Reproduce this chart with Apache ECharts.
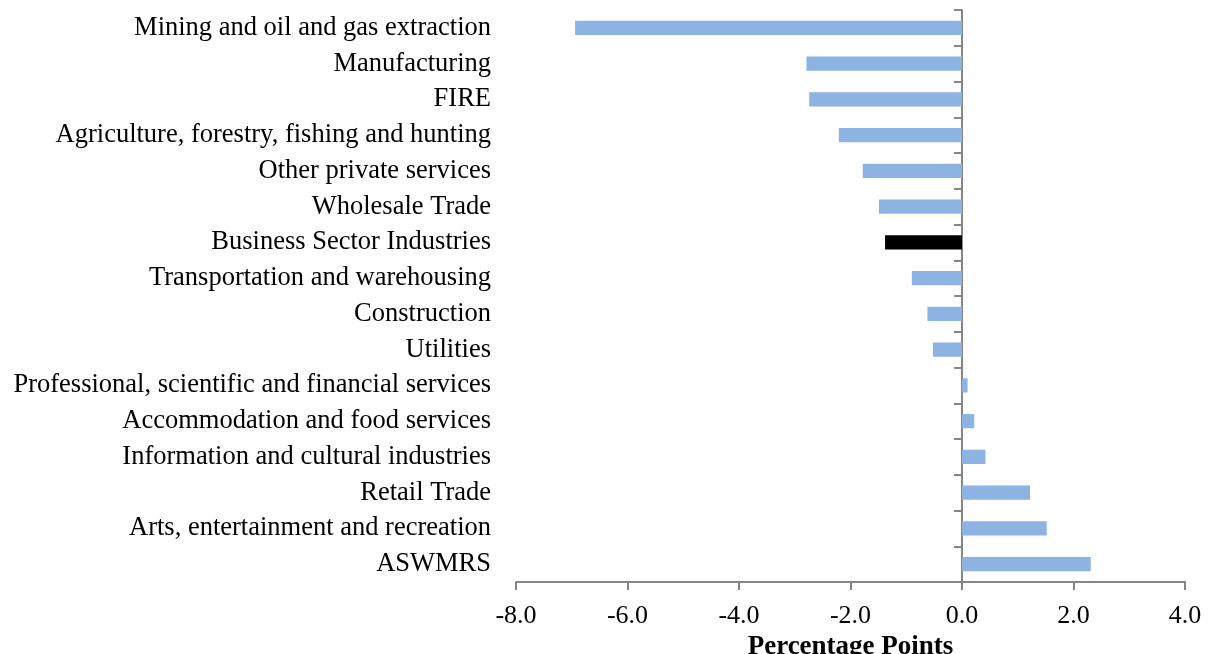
<!DOCTYPE html>
<html>
<head>
    <meta charset="utf-8">
    <title>Industry contributions</title>
    <script src="https://cdn.jsdelivr.net/npm/echarts@6/dist/echarts.min.js"></script>
    <style>
        html, body { margin: 0; padding: 0; background: #fff; }
        #chart { width: 1209px; height: 654px; }
    </style>
</head>
<body>
<div id="chart"></div>
<script>
    // industries, top to bottom
    const industries = [
        'Mining and oil and gas extraction',
        'Manufacturing',
        'FIRE',
        'Agriculture, forestry, fishing and hunting',
        'Other private services',
        'Wholesale Trade',
        'Business Sector Industries',
        'Transportation and warehousing',
        'Construction',
        'Utilities',
        'Professional, scientific and financial services',
        'Accommodation and food services',
        'Information and cultural industries',
        'Retail Trade',
        'Arts, entertainment and recreation',
        'ASWMRS'
    ];
    // percentage points
    const values = [-6.94, -2.79, -2.74, -2.21, -1.78, -1.49, -1.38, -0.90, -0.62, -0.52,
        0.10, 0.22, 0.42, 1.22, 1.52, 2.31];
    const xTicks = [-8, -6, -4, -2, 0, 2, 4];
    const totalName = 'Business Sector Industries';

    const serif = '"Liberation Serif", "Times New Roman", serif';
    const axisGrey = '#868686';

    const chart = echarts.init(document.getElementById('chart'));

    const option = {
        animation: false,
        grid: { left: 516, right: 24, top: 10, bottom: 72, containLabel: false, outerBoundsMode: 'none' },
        xAxis: {
            type: 'value',
            min: xTicks[0],
            max: xTicks[xTicks.length - 1],
            interval: 2,
            name: 'Percentage Points',
            nameLocation: 'middle',
            nameGap: 49,
            nameTextStyle: { fontFamily: serif, fontSize: 27, fontWeight: 'bold', color: '#000' },
            axisLine: { show: true, lineStyle: { color: axisGrey, width: 2 } },
            axisTick: { show: true, length: 8, lineStyle: { color: axisGrey, width: 2 } },
            axisLabel: {
                fontFamily: serif, fontSize: 26, color: '#000', margin: 21,
                formatter: v => v.toFixed(1)
            },
            splitLine: { show: false }
        },
        yAxis: [
            {
                // labels on the left edge
                type: 'category',
                position: 'left',
                inverse: true,
                data: industries,
                axisLine: { show: false, onZero: false },
                axisTick: { show: false },
                axisLabel: {
                    fontFamily: serif, fontSize: 26.5, color: '#000', margin: 25,
                    padding: [5, 0, 0, 0]
                }
            },
            {
                // line and ticks at zero
                type: 'category',
                position: 'left',
                inverse: true,
                data: industries,
                axisLine: { show: true, onZero: true, lineStyle: { color: axisGrey, width: 2 } },
                axisTick: { show: true, length: 8, lineStyle: { color: axisGrey, width: 2 } },
                axisLabel: { show: false }
            }
        ],
        series: [{
            type: 'bar',
            yAxisIndex: 0,
            barWidth: '40%',
            data: values.map((v, i) => ({
                value: v,
                itemStyle: { color: industries[i] === totalName ? '#000000' : '#8DB3E2' }
            }))
        }]
    };

    chart.setOption(option);
</script>
</body>
</html>
